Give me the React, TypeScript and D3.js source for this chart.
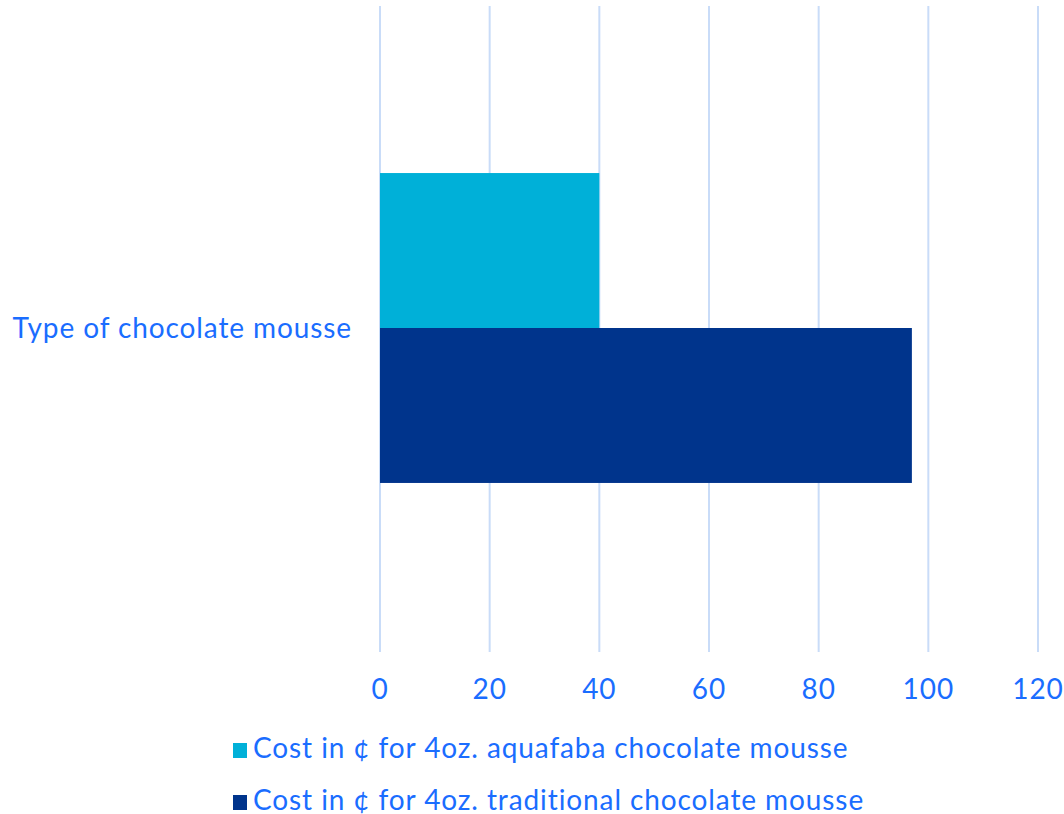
import React from "react";
import * as d3 from "d3";

const categories = ["Type of chocolate mousse"];
const seriesNames = [
  "Cost in ¢ for 4oz. aquafaba chocolate mousse",
  "Cost in ¢ for 4oz. traditional chocolate mousse",
];
const seriesColors = ["#00b0d8", "#00348c"];
const aquafabaValues = [40];
const traditionalValues = [97];
const xTicks = [0, 20, 40, 60, 80, 100, 120];

const W = 1064;
const H = 814;
const M = { left: 380, right: 26, top: 6, bottom: 164 };
const TEXT = "#1a6dff";
const GRID = "#c9dcf8";
const FONT = "Lato, sans-serif";
const FS = 28;
const LS = 0.9;

export default function App() {
  const x = d3.scaleLinear().domain([0, 120]).range([M.left, W - M.right]);
  const y = d3
    .scaleBand<string>()
    .domain(categories)
    .range([M.top, H - M.bottom])
    .paddingInner(0)
    .paddingOuter(0.539);
  const series = [aquafabaValues, traditionalValues];
  const inner = d3
    .scaleBand<number>()
    .domain(series.map((_, i) => i))
    .range([0, y.bandwidth()]);

  return (
    <svg
      width={W}
      height={H}
      style={{ position: "absolute", left: 0, top: 0 }}
      fontFamily={FONT}
    >
      {xTicks.map((t) => (
        <line
          key={t}
          x1={x(t)}
          x2={x(t)}
          y1={M.top}
          y2={H - M.bottom + 2}
          stroke={GRID}
          strokeWidth={2}
        />
      ))}
      {categories.map((c, ci) =>
        series.map((vals, si) => (
          <rect
            key={`${c}-${si}`}
            x={x(0)}
            y={(y(c) ?? 0) + (inner(si) ?? 0)}
            width={x(vals[ci]) - x(0)}
            height={inner.bandwidth()}
            fill={seriesColors[si]}
          />
        ))
      )}
      {categories.map((c) => (
        <text
          key={c}
          x={352}
          y={(y(c) ?? 0) + y.bandwidth() / 2 + 10}
          textAnchor="end"
          fill={TEXT}
          fontSize={FS}
          letterSpacing={LS}
        >
          {c}
        </text>
      ))}
      {xTicks.map((t) => (
        <text
          key={t}
          x={x(t)}
          y={699}
          textAnchor="middle"
          fill={TEXT}
          fontSize={FS}
          letterSpacing={LS}
        >
          {t}
        </text>
      ))}
      {seriesNames.map((name, i) => (
        <g key={name} transform={`translate(233, ${743 + i * 52})`}>
          <rect width={14} height={15} fill={seriesColors[i]} />
          <text x={20} y={15} fill={TEXT} fontSize={FS} letterSpacing={LS}>
            {name}
          </text>
        </g>
      ))}
    </svg>
  );
}
